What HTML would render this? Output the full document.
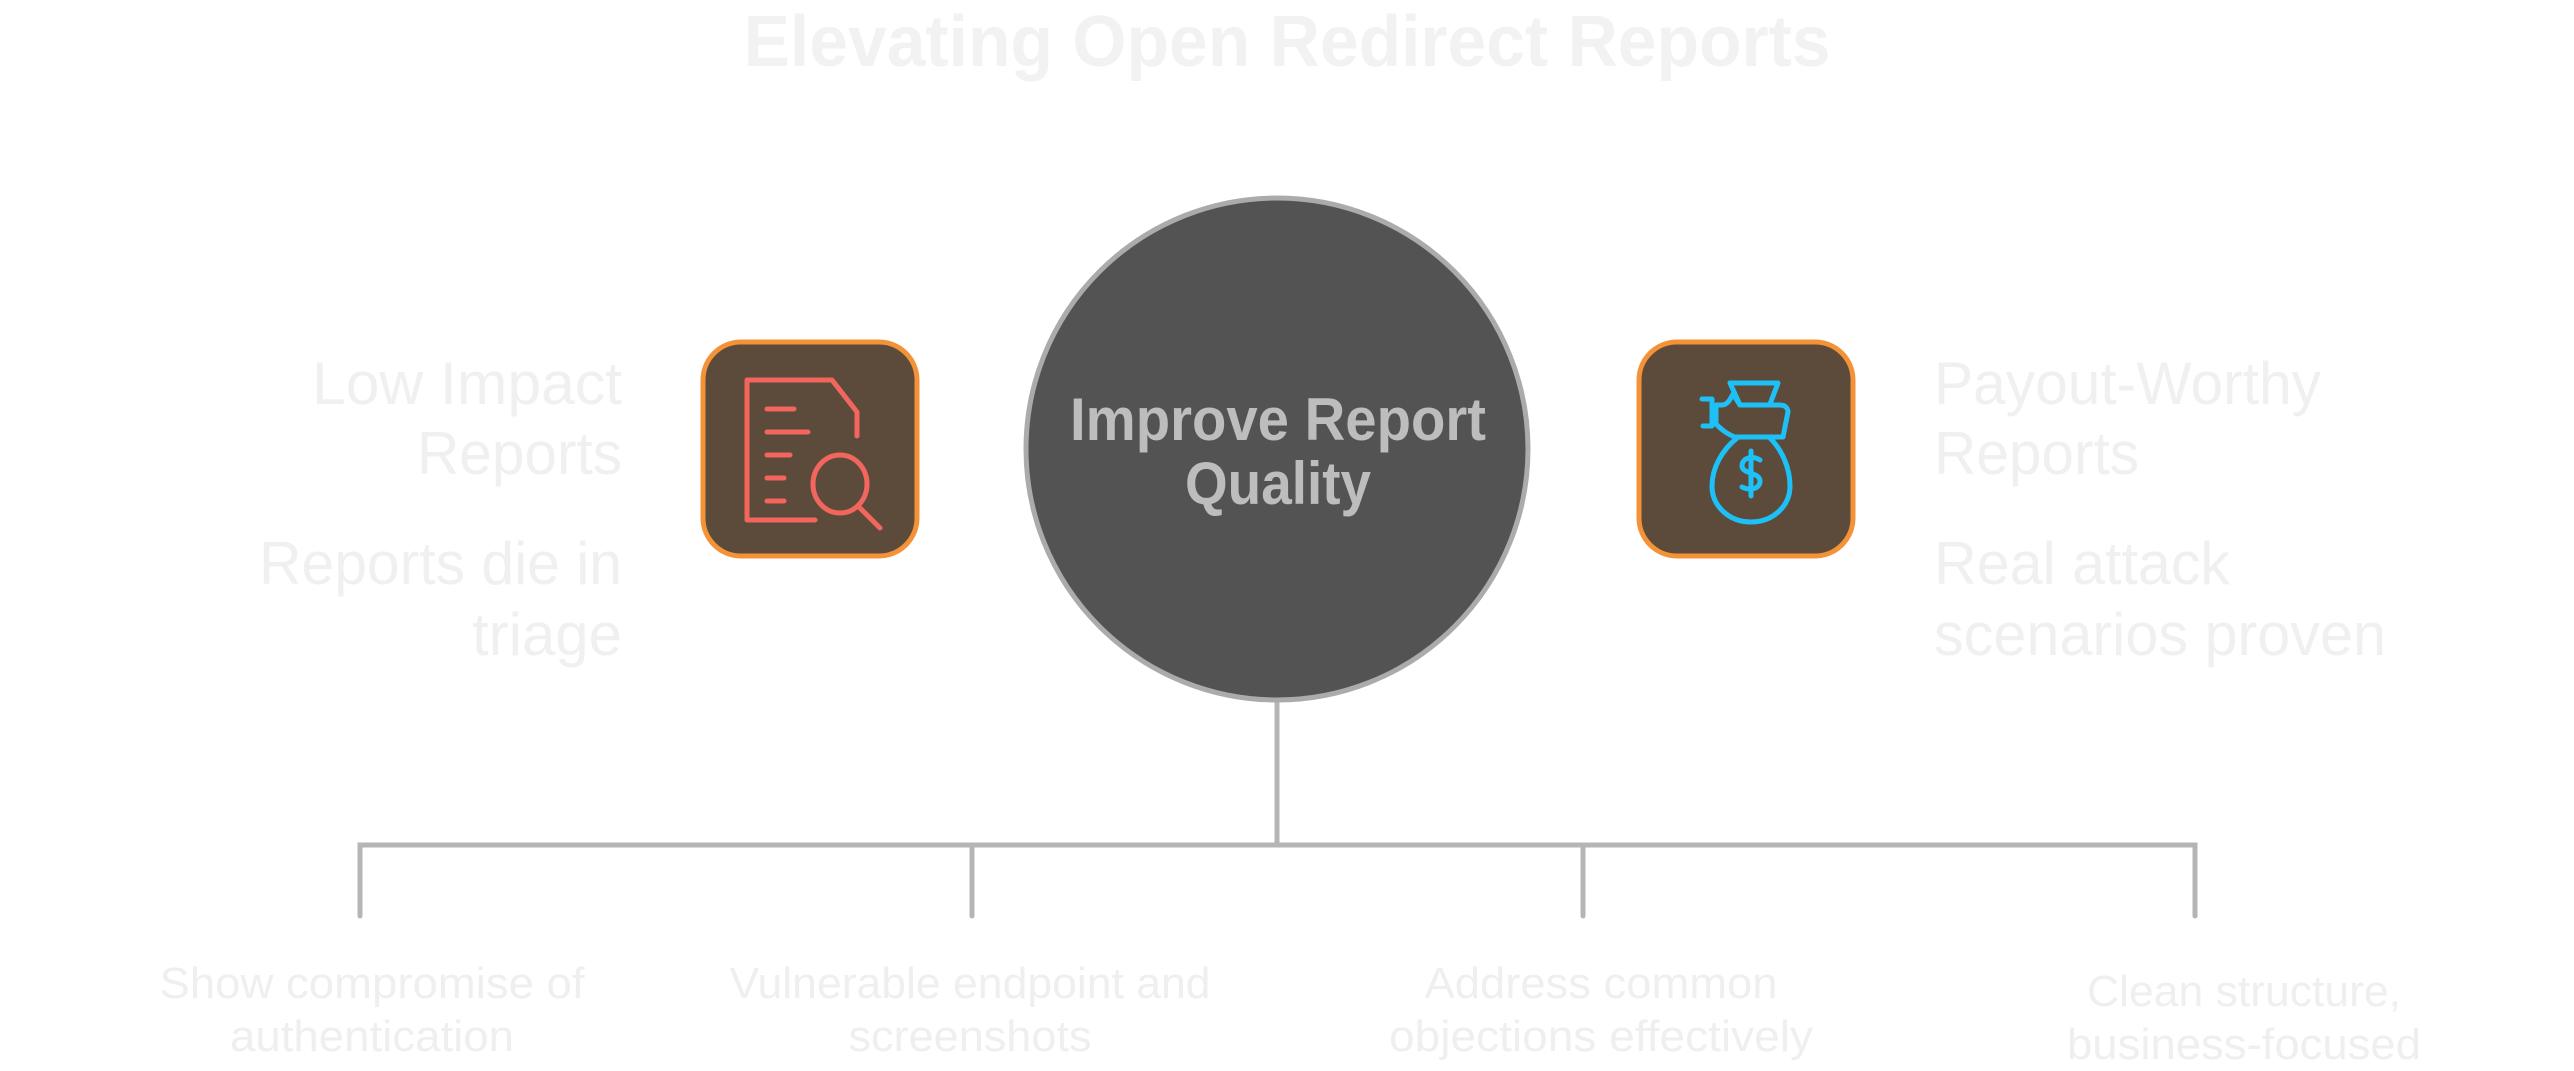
<!DOCTYPE html>
<html><head><meta charset="utf-8"><style>html,body{margin:0;padding:0;background:#fff}svg{display:block}</style></head>
<body>
<svg width="2574" height="1071" viewBox="0 0 2574 1071" xmlns="http://www.w3.org/2000/svg" font-family="Liberation Sans, sans-serif">
<text x="1287" y="66" font-size="72" font-weight="bold" fill="#f2f2f2" text-anchor="middle" textLength="1087" lengthAdjust="spacingAndGlyphs">Elevating Open Redirect Reports</text>

<g stroke="#b5b5b5" stroke-width="5" fill="none" stroke-linecap="round">
<line x1="1277" y1="700" x2="1277" y2="845"/>
<polyline points="360,916 360,845 2195,845 2195,916"/>
<line x1="972" y1="845" x2="972" y2="916"/>
<line x1="1583" y1="845" x2="1583" y2="916"/>
</g>

<circle cx="1277" cy="449" r="251" fill="#535353" stroke="#ababab" stroke-width="5"/>
<g font-weight="bold" fill="#bdbdbd" text-anchor="middle" font-size="60">
<text x="1278" y="440" textLength="416" lengthAdjust="spacingAndGlyphs">Improve Report</text>
<text x="1278" y="504" textLength="186" lengthAdjust="spacingAndGlyphs">Quality</text>
</g>

<rect x="703" y="342" width="214" height="214" rx="38" fill="#5c4a3a" stroke="#f39237" stroke-width="5"/>
<rect x="1639" y="342" width="214" height="214" rx="38" fill="#5c4a3a" stroke="#f39237" stroke-width="5"/>

<g stroke="#f2665e" stroke-width="5" fill="none" stroke-linecap="round" stroke-linejoin="round">
<path d="M815 520 H747 V380 H832 L857 412 V436"/>
<line x1="767" y1="409" x2="794" y2="409"/>
<line x1="767" y1="432" x2="808" y2="432"/>
<line x1="767" y1="455" x2="790" y2="455"/>
<line x1="767" y1="478" x2="784" y2="478"/>
<line x1="767" y1="501" x2="784" y2="501"/>
<ellipse cx="840" cy="484" rx="27" ry="29"/>
<line x1="858" y1="506" x2="880" y2="528"/>
</g>

<g stroke="#1ec1f7" stroke-width="5" fill="none" stroke-linecap="round" stroke-linejoin="round">
<path d="M1737 438 C1722 450 1712 468 1712 486 C1712 506 1729 522 1751 522 C1773 522 1790 506 1790 486 C1790 468 1782 450 1770 438"/>
<path d="M1737 438 C1727 434 1722 430 1716 424 V405 H1722 C1727 405 1730 400 1733 394 L1740 405 H1780 C1786 405 1788 409 1788 412 L1783 437 H1737"/>
<path d="M1702 399 H1712 V426 H1703"/>
<path d="M1730 383 H1778 L1770 404"/>
<path d="M1730 383 L1740 405"/>
<path d="M1760 460 C1752 455 1742 458 1742 466 C1742 474 1760 472 1760 481 C1760 489 1750 491 1742 487"/>
<line x1="1751" y1="451" x2="1751" y2="496"/>
</g>

<g fill="#f0f0f0" font-size="60">
<text x="622" y="404" text-anchor="end" textLength="310" lengthAdjust="spacingAndGlyphs">Low Impact</text>
<text x="622" y="474" text-anchor="end" textLength="205" lengthAdjust="spacingAndGlyphs">Reports</text>
<text x="622" y="584" text-anchor="end" textLength="363" lengthAdjust="spacingAndGlyphs">Reports die in</text>
<text x="622" y="655" text-anchor="end" textLength="150" lengthAdjust="spacingAndGlyphs">triage</text>
<text x="1934" y="404" textLength="387" lengthAdjust="spacingAndGlyphs">Payout-Worthy</text>
<text x="1934" y="474" textLength="205" lengthAdjust="spacingAndGlyphs">Reports</text>
<text x="1934" y="584" textLength="296" lengthAdjust="spacingAndGlyphs">Real attack</text>
<text x="1934" y="655" textLength="452" lengthAdjust="spacingAndGlyphs">scenarios proven</text>
</g>

<g fill="#efefef" font-size="44" text-anchor="middle">
<text x="372" y="998" textLength="425" lengthAdjust="spacingAndGlyphs">Show compromise of</text>
<text x="372" y="1051" textLength="284" lengthAdjust="spacingAndGlyphs">authentication</text>
<text x="970" y="998" textLength="481" lengthAdjust="spacingAndGlyphs">Vulnerable endpoint and</text>
<text x="970" y="1051" textLength="243" lengthAdjust="spacingAndGlyphs">screenshots</text>
<text x="1601" y="998" textLength="353" lengthAdjust="spacingAndGlyphs">Address common</text>
<text x="1601" y="1051" textLength="424" lengthAdjust="spacingAndGlyphs">objections effectively</text>
<text x="2244" y="1006" textLength="314" lengthAdjust="spacingAndGlyphs">Clean structure,</text>
<text x="2244" y="1059" textLength="354" lengthAdjust="spacingAndGlyphs">business-focused</text>
</g>
</svg>
</body></html>
